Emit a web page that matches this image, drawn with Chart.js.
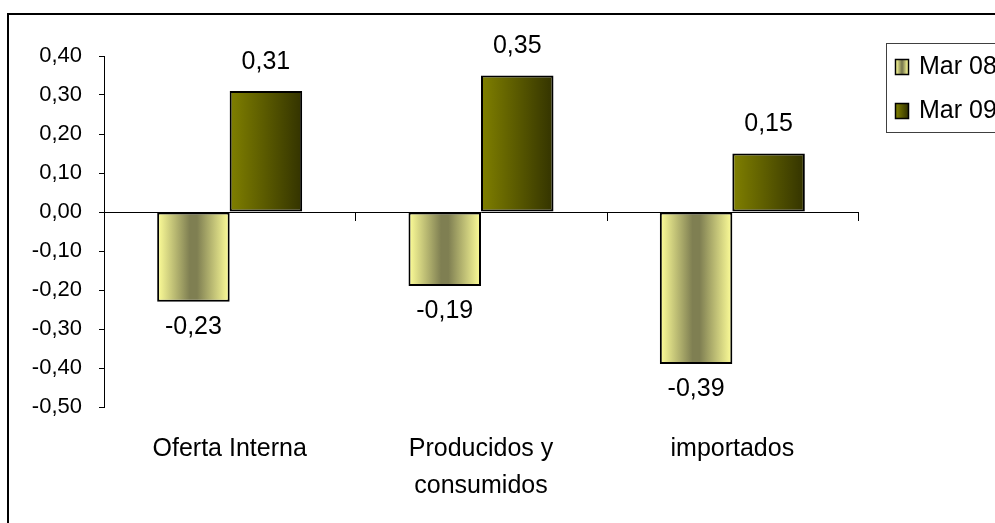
<!DOCTYPE html>
<html>
<head>
<meta charset="utf-8">
<script src="https://cdn.jsdelivr.net/npm/chart.js@4"></script>
<style>
  html, body { margin: 0; padding: 0; background: #fff; overflow: hidden; }
  .frame { position: absolute; left: 7px; top: 13px; width: 1100px; height: 600px; border: 2px solid #000; }
  .wrap { position: absolute; left: 0; top: 0; width: 995px; height: 523px; }
</style>
</head>
<body>
<div class="frame"></div>
<div class="wrap"><canvas id="myChart" width="995" height="523"></canvas></div>
<script>
// data
const categories = ['Oferta Interna', ['Producidos y', 'consumidos'], 'importados'];
const seriesNames = ['Mar 08', 'Mar 09'];
const mar08 = [-0.23, -0.19, -0.39];
const mar09 = [0.31, 0.35, 0.15];

const FONT = "'Liberation Sans', Arial, sans-serif";
const fmt = v => v.toFixed(2).replace('.', ',');

// gradient stops per series (horizontal across each bar)
const stops = [
  [[0, '#ffff99'], [0.45, '#7f7f52'], [0.55, '#7f7f52'], [1, '#ffff99']],
  [[0, '#808000'], [1, '#333300']]
];

function makeGrad(ctx, x0, x1, s) {
  const g = ctx.createLinearGradient(x0, 0, x1, 0);
  stops[s].forEach(st => g.addColorStop(st[0], st[1]));
  return g;
}

const barGradients = {
  id: 'barGradients',
  beforeDatasetsDraw(chart) {
    chart.data.datasets.forEach((ds, i) => {
      chart.getDatasetMeta(i).data.forEach(el => {
        el.options.backgroundColor = makeGrad(chart.ctx, el.x - el.width / 2, el.x + el.width / 2, i);
      });
    });
  }
};

const valueLabels = {
  id: 'valueLabels',
  afterDatasetsDraw(chart) {
    const ctx = chart.ctx;
    ctx.save();
    ctx.font = '25px ' + FONT;
    ctx.fillStyle = '#000';
    ctx.textAlign = 'center';
    ctx.textBaseline = 'middle';
    chart.data.datasets.forEach((ds, i) => {
      chart.getDatasetMeta(i).data.forEach((el, j) => {
        const v = ds.data[j];
        const y = v >= 0 ? el.y - 29 : el.y + 25;
        ctx.fillText(fmt(v), el.x, y);
      });
    });
    // small category ticks hanging under the zero line
    const xs = chart.scales.x, ys = chart.scales.y;
    const y0 = ys.getPixelForValue(0);
    ctx.strokeStyle = '#000';
    ctx.lineWidth = 1;
    for (let k = 1; k <= categories.length; k++) {
      const x = Math.round(xs.left + k * xs.width / categories.length) + 0.5;
      ctx.beginPath();
      ctx.moveTo(x, y0);
      ctx.lineTo(x, y0 + 9);
      ctx.stroke();
    }
    ctx.restore();
  }
};

const boxLegend = {
  id: 'boxLegend',
  afterDraw(chart) {
    const ctx = chart.ctx;
    ctx.save();
    ctx.strokeStyle = '#404040';
    ctx.lineWidth = 1;
    ctx.strokeRect(886.5, 43.5, 200, 89);
    ctx.font = '25px ' + FONT;
    ctx.textBaseline = 'middle';
    ctx.textAlign = 'left';
    seriesNames.forEach((name, i) => {
      const cy = 67 + i * 44;
      ctx.fillStyle = makeGrad(ctx, 896, 908, i);
      ctx.fillRect(896, cy - 7, 12, 14);
      ctx.strokeStyle = '#000';
      ctx.lineWidth = 1.5;
      ctx.strokeRect(895.5, cy - 7.5, 13, 15);
      ctx.fillStyle = '#000';
      ctx.fillText(name, 919, cy);
    });
    ctx.restore();
  }
};

const ctx = document.getElementById('myChart').getContext('2d');
const myChart = new Chart(ctx, {
  type: 'bar',
  data: {
    labels: categories,
    datasets: [
      { label: seriesNames[0], data: mar08, backgroundColor: () => '#ffff99', borderColor: '#000', borderWidth: 2, borderSkipped: false },
      { label: seriesNames[1], data: mar09, backgroundColor: () => '#808000', borderColor: '#000', borderWidth: 2, borderSkipped: false }
    ]
  },
  options: {
    responsive: false,
    animation: false,
    devicePixelRatio: 1,
    categoryPercentage: 0.577,
    barPercentage: 1,
    layout: { padding: { left: 0, top: 56, right: 137, bottom: 0 } },
    plugins: { legend: { display: false }, tooltip: { enabled: false } },
    scales: {
      x: {
        grid: { display: false },
        border: { display: false },
        ticks: { color: '#000', padding: 15, maxRotation: 0, autoSkip: false, font: { family: FONT, size: 25, lineHeight: 1.5 } },
        afterFit: s => { s.height = 116; }
      },
      y: {
        min: -0.5,
        max: 0.4,
        grid: {
          color: c => (Math.abs(c.tick.value) < 1e-9 ? '#000' : 'rgba(0,0,0,0)'),
          tickColor: '#000',
          tickLength: 5
        },
        border: { display: true, color: '#000', width: 1 },
        ticks: {
          stepSize: 0.1,
          color: '#000',
          padding: 17,
          font: { family: FONT, size: 22 },
          callback: v => fmt(v)
        },
        afterFit: s => { s.width = 104; }
      }
    }
  },
  plugins: [barGradients, valueLabels, boxLegend]
});
</script>
</body>
</html>
